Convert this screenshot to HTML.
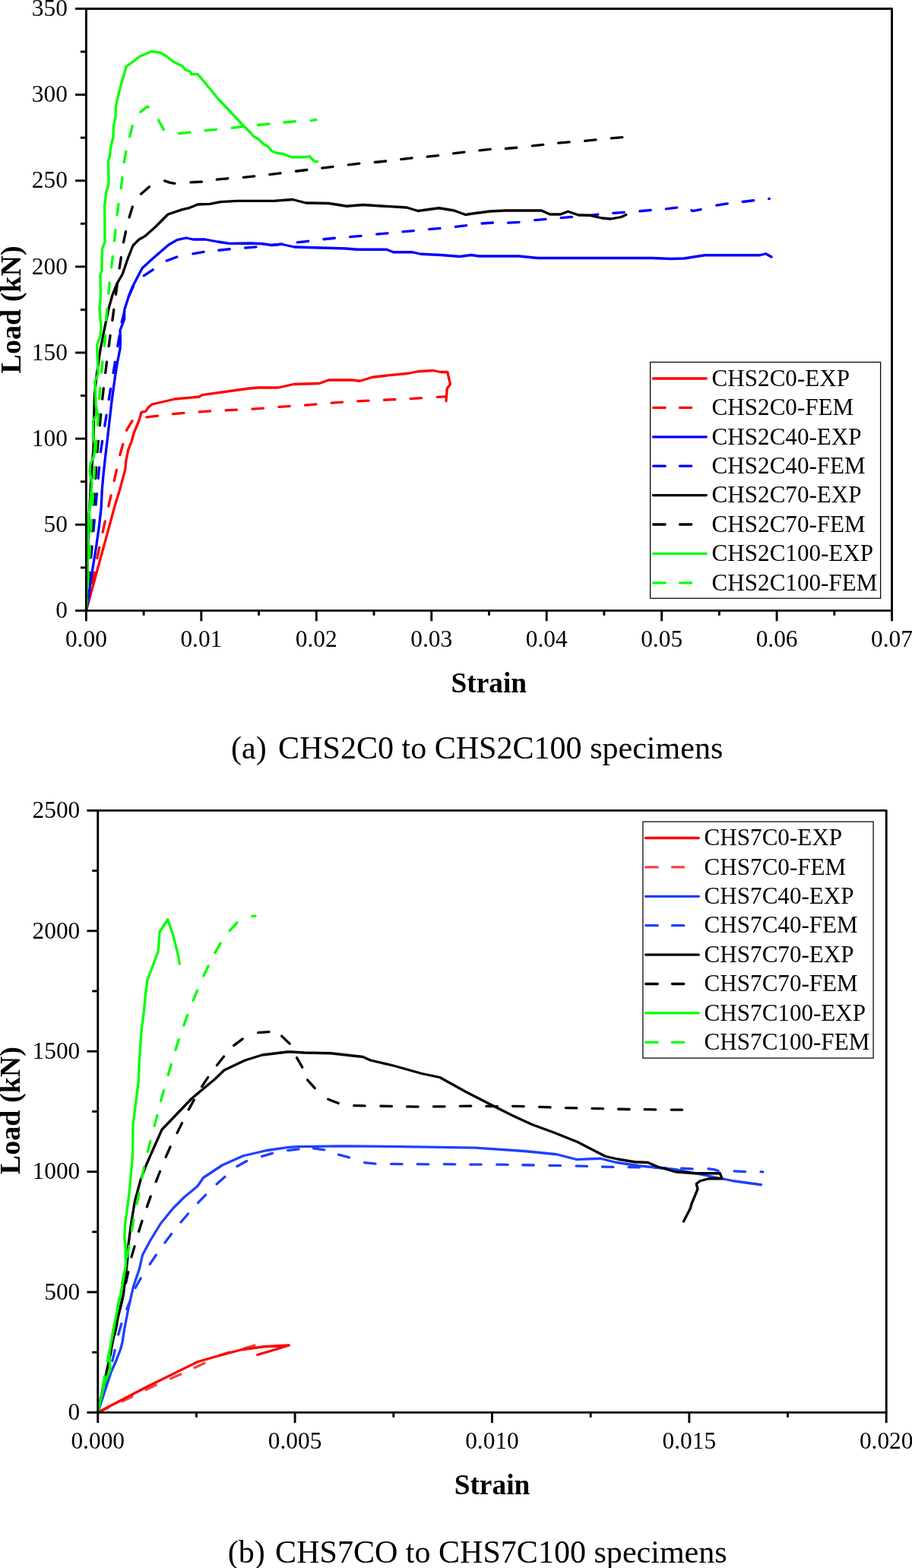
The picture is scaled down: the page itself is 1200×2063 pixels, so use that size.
<!DOCTYPE html>
<html lang="en"><head><meta charset="utf-8"><title>Load-strain curves</title>
<style>html,body{margin:0;padding:0;background:#fff;}body{width:1200px;height:2063px;overflow:hidden;}svg{display:block;}text{font-family:"Liberation Serif","Times New Roman",serif;}</style></head>
<body>
<svg width="1200" height="2063" viewBox="0 0 1200 2063" font-family="'Liberation Serif', 'Times New Roman', serif" fill="#000">
<rect width="1200" height="2063" fill="#fff"/>
<g id="chart-a">
<path d="M113.77 801.82 L117.06 787.7 M121.66 767.93 L124.34 753.67 M127.86 734.41 L130.74 720.19 M135.13 700.08 L138.27 685.92 M142.82 666.08 L145.98 651.92 M150.19 632.57 L153.41 618.43 M157.84 598.48 L161.76 584.52 M166.47 566.22 L173.93 553.78 M193 548.88 L207.4 547.12 M227.48 544.69 L241.92 543.31 M262.27 541.87 L276.73 540.93 M297.06 539.9 L311.54 539.1 M332.02 538.05 L346.48 537.1 M366.89 535.4 L381.36 534.35 M401.52 533.05 L415.98 531.95 M436.14 530.15 L450.61 529.1 M470.64 527.89 L485.11 527.11 M505.51 526.23 L519.99 525.52 M540.01 524.53 L554.49 523.72 M575.4 522.41 L585.35 521.84" stroke="#ff0000" stroke-width="3.3" fill="none" stroke-linejoin="round" stroke-linecap="round"/>
<path d="M113.5 803 L146.6 682.1 L151.3 664.6 L157.7 644.2 L160 635.4 L164.7 617.9 L165.8 606.3 L168.8 591.7 L173.4 580 L176 570 L183 553 L186 542.4 L192 541 L195 536 L200 532 L230 525 L262 522 L266 519.6 L328 511 L340 510 L366.25 510 L386.25 505.5 L420 504.5 L432.5 500 L462.5 500 L473.75 501.25 L490 496.25 L505 494.5 L537.5 491.25 L550 488.75 L570 487.5 L580 489.5 L588.75 489.5 L592.5 505.5 L588.25 511.25 L587 527.5" stroke="#ff0000" stroke-width="3.3" fill="none" stroke-linejoin="round" stroke-linecap="round" />
<path d="M113.54 802.61 L114.84 788.17 M116.67 767.95 L117.98 753.51 M119.81 733.29 L121.12 718.85 M122.95 698.64 L124.26 684.19 M126.09 663.98 L127.4 649.54 M129.23 629.32 L130.54 614.88 M132.37 594.66 L134.63 580.34 M137.77 560.46 L140.03 546.14 M143.24 525.66 L145.56 511.34 M149.01 490.65 L151.39 476.35 M154.74 455.64 L157.26 441.36 M160.17 423.78 L163.73 409.72 M169.52 389.86 L175.48 376.64 M189.17 362.82 L201.23 354.78 M219.21 343.15 L232.79 338.05 M253.86 333.95 L268.14 331.45 M287.79 329.25 L302.21 327.75 M322.58 326.12 L337.02 324.88 M356.95 322.71 L371.37 321.15 M391.3 318.98 L405.7 317.27 M425.91 314.74 L440.34 313.26 M460.66 311.67 L475.09 310.33 M495.66 308.2 L510.09 306.8 M529.91 304.93 L544.34 303.57 M564.66 301.7 L579.09 300.3 M599.29 298.28 L613.71 296.72 M634.02 294 L648.48 293 M668.64 293.22 L683.11 292.28 M703.66 289.7 L718.09 288.3 M738.15 286.63 L752.6 285.37 M772.46 283.56 L786.91 282.25 M806.77 280.44 L821.23 279.31 M841.9 277.74 L856.35 276.51 M876.3 274.85 L890.7 273.15 M909.9 276.83 L911.5 277.6 L922.13 275.69 M942.85 270.17 L957.15 267.83 M977.18 265.5 L991.57 263.75 M1011.62 261.52 L1012.38 261.4" stroke="#0000ff" stroke-width="3.3" fill="none" stroke-linejoin="round" stroke-linecap="round"/>
<path d="M113.5 803 L116.1 789.2 L119 765.8 L121.9 748.3 L126.6 719.2 L130.7 690 L133.2 667.5 L134.3 644.2 L136.1 623.8 L139 597.5 L141.3 578 L147 528 L151.8 493 L154.6 476 L158 459 L158.4 446 L158 434.5 L163.6 420 L163.6 408 L170 388 L174 378 L187 353 L200 341 L222 322 L233 315.6 L245 313 L254 315 L270 315 L286 318 L302 320.4 L330 320 L345 320.75 L357.5 322.5 L370 321.25 L387.5 325 L430 326.25 L455 327 L470 328.25 L508.75 328.25 L517.5 331.75 L542.5 331.75 L553.75 334.25 L580 335.5 L605 337.5 L620 335.5 L630 337 L682.5 337 L707.5 339.5 L857.5 339.5 L882.5 340.5 L900 340 L927.5 335.75 L1000 335.75 L1007.5 333.75 L1015 338" stroke="#0000ff" stroke-width="3.3" fill="none" stroke-linejoin="round" stroke-linecap="round" />
<path d="M113.5 803 L114.51 788.55 M115.92 768.3 L116.93 753.83 M118.34 733.58 L119.35 719.12 M120.76 698.87 L121.77 684.4 M123.18 664.15 L124.19 649.68 M125.6 629.43 L126.61 614.97 M128.02 594.72 L129.38 580.28 M131.29 559.72 L132.71 545.28 M134.71 525.21 L136.29 510.79 M138.71 490.5 L140.49 476.1 M143.14 455.69 L145.06 441.31 M147.82 421.68 L149.78 407.32 M152.42 387.38 L154.38 373.02 M157.09 352.96 L159.31 338.64 M162.51 318.8 L165.49 304.6 M170.03 285.92 L174.37 272.08 M185.53 255.26 L196.47 245.74 M216.57 237.92 L224 240.4 L229.97 241.34 M250.96 239.92 L265.44 239.08 M285.29 236.22 L299.71 234.78 M320.28 233.3 L334.72 231.9 M354.68 229.61 L369.07 227.89 M389.43 225.26 L403.82 223.49 M423.68 221.12 L438.07 219.38 M458.42 216.78 L472.83 215.22 M493.16 213.5 L507.59 212 M527.67 209.52 L542.08 207.98 M562.17 206.19 L576.58 204.56 M596.55 201.86 L610.95 200.14 M630.9 197.77 L645.35 196.48 M665.4 195.5 L679.85 194.25 M700.29 191.89 L714.71 190.36 M734.66 188.18 L749.09 186.82 M769.65 185.27 L784.1 183.98 M804.41 181.95 L818.84 180.55" stroke="#000000" stroke-width="3.3" fill="none" stroke-linejoin="round" stroke-linecap="round"/>
<path d="M113.5 803 L116.5 690 L120.5 620 L123 590 L123.6 552 L124.4 520 L127.4 492 L132 460 L138 430 L143 406 L148 388 L154 373 L161 361 L169 338 L175 323 L183 315 L191 310.6 L204 299 L221 282 L240 275.6 L249 273.6 L260 269 L276 268.4 L290 265.6 L312 264.4 L360 264.4 L385 262.5 L402.5 267 L432.5 267.5 L456.25 271.25 L477.5 269.5 L505 271.25 L535 273 L550 277.5 L577.5 273.75 L597.5 277 L612.5 282.5 L620 281.25 L645 278 L665 277 L712.5 277 L723.75 282 L737.5 282 L747.5 278.25 L761.25 283 L775 283.25 L792.5 287 L803.75 288 L817.5 285.5 L823.75 282.5" stroke="#000000" stroke-width="3.3" fill="none" stroke-linejoin="round" stroke-linecap="round" />
<path d="M113.5 803 L114.34 788.69 M115.53 768.43 L116.38 753.95 M117.58 733.69 L118.43 719.21 M119.62 698.95 L120.47 684.47 M121.66 664.21 L122.51 649.73 M123.71 629.47 L124.56 614.99 M125.75 594.73 L126.85 580.27 M128.49 559.23 L129.51 544.77 M130.66 524.73 L131.74 510.27 M133.49 490.22 L134.91 475.78 M137.37 455.22 L138.63 440.78 M139.63 421.23 L140.77 406.77 M142.64 386.21 L144.16 371.79 M146.69 351.9 L148.31 337.5 M150.42 317.01 L151.98 302.59 M154.07 282.79 L155.93 268.41 M159.11 247.88 L161.09 233.52 M163.21 213.63 L165.79 199.37 M170.6 179.82 L174.2 165.78 M184.88 147.36 L193.9 140 L195.16 140.99 M208.52 157.94 L215.48 170.66 M235.48 175.5 L249.92 174.1 M270.09 171.95 L284.51 170.45 M305.29 168.27 L319.71 166.73 M339.41 164.5 L353.84 163 M374.03 160.99 L388.47 159.76 M409.14 158.55 L415.86 157.7" stroke="#00ff00" stroke-width="3.3" fill="none" stroke-linejoin="round" stroke-linecap="round"/>
<path d="M113.5 803 L115 750 L116 690 L121 636 L118 620 L119 610 L123.6 600 L125 586 L123 576 L122.4 554 L128 544 L126 532 L125 502 L129 492 L127.6 454 L132 442 L133 430 L131 407 L132.4 390 L132 361 L134 356 L134.4 328 L138 318 L137.6 270 L140 252 L143 242 L142.4 212 L144.4 206 L145.6 194 L149 180 L149.4 166 L152 154 L152.4 140 L155 128 L158 116 L162 102 L166 87.6 L174 82 L184 74 L192 71 L199 67.6 L210 69 L219 74 L228 81 L240 87 L244 92 L250 94 L252 97.6 L260 97.6 L264 102 L287 130 L320 165 L330 175 L333.75 179.5 L339.5 182.5 L347.5 190 L352.5 192.5 L357.5 198.75 L363.75 201.25 L372.5 202.5 L383.75 206.75 L402.5 206.75 L407 205.5 L413.75 212.5 L417.5 212.5" stroke="#00ff00" stroke-width="3.3" fill="none" stroke-linejoin="round" stroke-linecap="round" />
<rect x="113.4" y="11.45" width="1060.15" height="791.95" fill="none" stroke="#000" stroke-width="2.9" stroke-linejoin="round"/>
<line x1="113.4" y1="803.4" x2="113.4" y2="817.2" stroke="#000000" stroke-width="2.9" stroke-linecap="butt"/>
<text x="113.4" y="850.5" font-size="31.4" text-anchor="middle" letter-spacing="0.0">0.00</text>
<line x1="264.85" y1="803.4" x2="264.85" y2="817.2" stroke="#000000" stroke-width="2.9" stroke-linecap="butt"/>
<text x="264.85" y="850.5" font-size="31.4" text-anchor="middle" letter-spacing="0.0">0.01</text>
<line x1="416.3" y1="803.4" x2="416.3" y2="817.2" stroke="#000000" stroke-width="2.9" stroke-linecap="butt"/>
<text x="416.3" y="850.5" font-size="31.4" text-anchor="middle" letter-spacing="0.0">0.02</text>
<line x1="567.75" y1="803.4" x2="567.75" y2="817.2" stroke="#000000" stroke-width="2.9" stroke-linecap="butt"/>
<text x="567.75" y="850.5" font-size="31.4" text-anchor="middle" letter-spacing="0.0">0.03</text>
<line x1="719.2" y1="803.4" x2="719.2" y2="817.2" stroke="#000000" stroke-width="2.9" stroke-linecap="butt"/>
<text x="719.2" y="850.5" font-size="31.4" text-anchor="middle" letter-spacing="0.0">0.04</text>
<line x1="870.65" y1="803.4" x2="870.65" y2="817.2" stroke="#000000" stroke-width="2.9" stroke-linecap="butt"/>
<text x="870.65" y="850.5" font-size="31.4" text-anchor="middle" letter-spacing="0.0">0.05</text>
<line x1="1022.1" y1="803.4" x2="1022.1" y2="817.2" stroke="#000000" stroke-width="2.9" stroke-linecap="butt"/>
<text x="1022.1" y="850.5" font-size="31.4" text-anchor="middle" letter-spacing="0.0">0.06</text>
<line x1="1173.55" y1="803.4" x2="1173.55" y2="817.2" stroke="#000000" stroke-width="2.9" stroke-linecap="butt"/>
<text x="1173.55" y="850.5" font-size="31.4" text-anchor="middle" letter-spacing="0.0">0.07</text>
<line x1="189.12" y1="803.4" x2="189.12" y2="809.8" stroke="#000000" stroke-width="2.9" stroke-linecap="butt"/>
<line x1="340.57" y1="803.4" x2="340.57" y2="809.8" stroke="#000000" stroke-width="2.9" stroke-linecap="butt"/>
<line x1="492.02" y1="803.4" x2="492.02" y2="809.8" stroke="#000000" stroke-width="2.9" stroke-linecap="butt"/>
<line x1="643.47" y1="803.4" x2="643.47" y2="809.8" stroke="#000000" stroke-width="2.9" stroke-linecap="butt"/>
<line x1="794.92" y1="803.4" x2="794.92" y2="809.8" stroke="#000000" stroke-width="2.9" stroke-linecap="butt"/>
<line x1="946.37" y1="803.4" x2="946.37" y2="809.8" stroke="#000000" stroke-width="2.9" stroke-linecap="butt"/>
<line x1="1097.83" y1="803.4" x2="1097.83" y2="809.8" stroke="#000000" stroke-width="2.9" stroke-linecap="butt"/>
<line x1="99.1" y1="803.4" x2="113.4" y2="803.4" stroke="#000000" stroke-width="2.9" stroke-linecap="butt"/>
<text x="88.85" y="813.11" font-size="31.4" text-anchor="end" letter-spacing="0.0">0</text>
<line x1="99.1" y1="690.26" x2="113.4" y2="690.26" stroke="#000000" stroke-width="2.9" stroke-linecap="butt"/>
<text x="88.85" y="699.98" font-size="31.4" text-anchor="end" letter-spacing="0.0">50</text>
<line x1="99.1" y1="577.13" x2="113.4" y2="577.13" stroke="#000000" stroke-width="2.9" stroke-linecap="butt"/>
<text x="88.85" y="586.84" font-size="31.4" text-anchor="end" letter-spacing="0.0">100</text>
<line x1="99.1" y1="463.99" x2="113.4" y2="463.99" stroke="#000000" stroke-width="2.9" stroke-linecap="butt"/>
<text x="88.85" y="473.71" font-size="31.4" text-anchor="end" letter-spacing="0.0">150</text>
<line x1="99.1" y1="350.86" x2="113.4" y2="350.86" stroke="#000000" stroke-width="2.9" stroke-linecap="butt"/>
<text x="88.85" y="360.57" font-size="31.4" text-anchor="end" letter-spacing="0.0">200</text>
<line x1="99.1" y1="237.72" x2="113.4" y2="237.72" stroke="#000000" stroke-width="2.9" stroke-linecap="butt"/>
<text x="88.85" y="247.43" font-size="31.4" text-anchor="end" letter-spacing="0.0">250</text>
<line x1="99.1" y1="124.59" x2="113.4" y2="124.59" stroke="#000000" stroke-width="2.9" stroke-linecap="butt"/>
<text x="88.85" y="134.3" font-size="31.4" text-anchor="end" letter-spacing="0.0">300</text>
<line x1="99.1" y1="11.45" x2="113.4" y2="11.45" stroke="#000000" stroke-width="2.9" stroke-linecap="butt"/>
<text x="88.85" y="21.16" font-size="31.4" text-anchor="end" letter-spacing="0.0">350</text>
<line x1="105.9" y1="746.83" x2="113.4" y2="746.83" stroke="#000000" stroke-width="2.9" stroke-linecap="butt"/>
<line x1="105.9" y1="633.7" x2="113.4" y2="633.7" stroke="#000000" stroke-width="2.9" stroke-linecap="butt"/>
<line x1="105.9" y1="520.56" x2="113.4" y2="520.56" stroke="#000000" stroke-width="2.9" stroke-linecap="butt"/>
<line x1="105.9" y1="407.43" x2="113.4" y2="407.43" stroke="#000000" stroke-width="2.9" stroke-linecap="butt"/>
<line x1="105.9" y1="294.29" x2="113.4" y2="294.29" stroke="#000000" stroke-width="2.9" stroke-linecap="butt"/>
<line x1="105.9" y1="181.15" x2="113.4" y2="181.15" stroke="#000000" stroke-width="2.9" stroke-linecap="butt"/>
<line x1="105.9" y1="68.02" x2="113.4" y2="68.02" stroke="#000000" stroke-width="2.9" stroke-linecap="butt"/>
<text x="26.7" y="407.4" font-size="38.1" text-anchor="middle" font-weight="bold" transform="rotate(-90 26.7 407.4)" >Load (kN)</text>
<text x="643.3" y="910.8" font-size="37.4" text-anchor="middle" font-weight="bold" >Strain</text>
<rect x="855.6" y="476.5" width="303" height="310.7" fill="#fff" stroke="#000" stroke-width="1.25"/>
<line x1="859.5" y1="498" x2="929.35" y2="498" stroke="#ff0000" stroke-width="3.3" stroke-linecap="round"/>
<text x="936.6" y="507.71" font-size="31.1" text-anchor="start" letter-spacing="0.0">CHS2C0-EXP</text>
<line x1="859.7" y1="536.4" x2="875.2" y2="536.4" stroke="#ff0000" stroke-width="3.3" stroke-linecap="round"/>
<line x1="894.5" y1="536.4" x2="909.7" y2="536.4" stroke="#ff0000" stroke-width="3.3" stroke-linecap="round"/>
<text x="936.6" y="546.11" font-size="31.1" text-anchor="start" letter-spacing="0.0">CHS2C0-FEM</text>
<line x1="859.5" y1="574.8" x2="929.35" y2="574.8" stroke="#0000ff" stroke-width="3.3" stroke-linecap="round"/>
<text x="936.6" y="584.51" font-size="31.1" text-anchor="start" letter-spacing="0.0">CHS2C40-EXP</text>
<line x1="859.7" y1="613.2" x2="875.2" y2="613.2" stroke="#0000ff" stroke-width="3.3" stroke-linecap="round"/>
<line x1="894.5" y1="613.2" x2="909.7" y2="613.2" stroke="#0000ff" stroke-width="3.3" stroke-linecap="round"/>
<text x="936.6" y="622.91" font-size="31.1" text-anchor="start" letter-spacing="0.0">CHS2C40-FEM</text>
<line x1="859.5" y1="651.6" x2="929.35" y2="651.6" stroke="#000000" stroke-width="3.3" stroke-linecap="round"/>
<text x="936.6" y="661.31" font-size="31.1" text-anchor="start" letter-spacing="0.0">CHS2C70-EXP</text>
<line x1="859.7" y1="690" x2="875.2" y2="690" stroke="#000000" stroke-width="3.3" stroke-linecap="round"/>
<line x1="894.5" y1="690" x2="909.7" y2="690" stroke="#000000" stroke-width="3.3" stroke-linecap="round"/>
<text x="936.6" y="699.71" font-size="31.1" text-anchor="start" letter-spacing="0.0">CHS2C70-FEM</text>
<line x1="859.5" y1="728.4" x2="929.35" y2="728.4" stroke="#00ff00" stroke-width="3.3" stroke-linecap="round"/>
<text x="936.6" y="738.11" font-size="31.1" text-anchor="start" letter-spacing="0.0">CHS2C100-EXP</text>
<line x1="859.7" y1="766.8" x2="875.2" y2="766.8" stroke="#00ff00" stroke-width="3.3" stroke-linecap="round"/>
<line x1="894.5" y1="766.8" x2="909.7" y2="766.8" stroke="#00ff00" stroke-width="3.3" stroke-linecap="round"/>
<text x="936.6" y="776.51" font-size="31.1" text-anchor="start" letter-spacing="0.0">CHS2C100-FEM</text>
</g>
<text x="304" y="998.4" font-size="42.05" text-anchor="start" >(a)</text>
<text x="366.1" y="998.4" font-size="42.05" text-anchor="start" >CHS2C0 to CHS2C100 specimens</text>
<g id="chart-b">
<path d="M129.21 1857.99 L142.45 1852.08 M160.98 1843.8 L174.02 1837.45 M192.18 1828.44 L205.32 1822.31 M224.65 1813.87 L237.85 1807.88 M255.93 1799.56 L269.07 1793.44 M288.12 1783.54 L301.88 1778.96 M321.14 1774.03 L335.11 1770.17" stroke="#f04545" stroke-width="3.3" fill="none" stroke-linejoin="round" stroke-linecap="round"/>
<path d="M128.75 1858.2 L192.5 1825 L260 1791.75 L285 1784.5 L317.5 1775.75 L347.5 1771.75 L380.5 1770 L360 1776.25 L338.75 1782.5" stroke="#ff0000" stroke-width="3.3" fill="none" stroke-linejoin="round" stroke-linecap="round" />
<path d="M128.94 1857.54 L132.87 1843.59 M138.38 1824.05 L142.32 1810.09 M147.83 1790.55 L151.17 1776.45 M155.72 1755.71 L159.78 1741.79 M166.86 1722.22 L170.64 1712.78 M178.04 1694.43 L185.21 1681.82 M197.2 1663.26 L205.3 1651.24 M216.87 1635.03 L225.63 1623.47 M238.04 1608.01 L247.46 1596.99 M260.58 1582.46 L270.67 1572.04 M285.05 1557.9 L295.95 1548.35 M312.05 1534.55 L324.7 1527.45 M344.52 1521.33 L358.48 1517.42 M378.68 1513.66 L393.07 1511.84 M412.44 1510.91 L426.81 1512.84 M445.51 1519.08 L459.49 1522.92 M479.67 1529.6 L494.08 1531.15 M514.63 1531.36 L529.12 1531.64 M549.25 1531.72 L563.75 1531.78 M584.25 1531.71 L598.75 1531.79 M618.63 1532.07 L633.12 1532.18 M653.75 1532.17 L668.25 1532.33 M687.75 1532.74 L702.25 1533.01 M723 1533.36 L737.5 1533.64 M758.13 1534.07 L772.62 1534.43 M792.38 1535.09 L806.87 1535.41 M827.13 1535.65 L841.62 1535.85 M861.82 1536.32 L876.31 1536.66 M896.51 1537.13 L910.99 1537.87 M932.14 1537.78 L939.5 1538.6 L945.23 1540.48 M966.11 1540.97 L980.59 1541.53 M1000.95 1541.72 L1003.75 1541.83" stroke="#1f40ff" stroke-width="3.3" fill="none" stroke-linejoin="round" stroke-linecap="round"/>
<path d="M128.75 1858.2 L146.25 1805 L152.7 1790.5 L158.5 1775.5 L161 1766 L163.6 1749 L168.75 1722.5 L175.5 1692.5 L183.25 1670 L187.5 1651.25 L197.5 1632.5 L211.25 1610 L227.5 1590 L242.5 1575 L260 1560.5 L267.5 1549.5 L292.5 1533 L320 1520.75 L350 1513.75 L380 1509.4 L393 1508.7 L450 1507.8 L506.7 1508.3 L563 1509.1 L625 1510.1 L690 1514.5 L732.5 1518.75 L758.75 1525.5 L790 1524.25 L810 1529.25 L840 1533.75 L890 1538.75 L940 1548.75 L965 1553.75 L1001.5 1558.75" stroke="#1f40ff" stroke-width="3.3" fill="none" stroke-linejoin="round" stroke-linecap="round" />
<path d="M128.81 1857.91 L131.88 1843.74 M136.17 1823.9 L139.24 1809.73 M143.53 1789.89 L146.6 1775.72 M150.89 1755.87 L153.96 1741.7 M158.25 1721.86 L161.32 1707.69 M165.61 1687.85 L168.68 1673.68 M172.97 1653.84 L177.03 1639.91 M182.57 1620.29 L186.93 1606.46 M193.33 1587.83 L198.17 1574.17 M205.25 1554.76 L210.5 1541.24 M218.18 1522.25 L224.07 1509 M233.04 1490.63 L239.46 1477.62 M248.25 1459.85 L255.25 1447.15 M265.62 1429.54 L273.63 1417.46 M285.47 1401.41 L294.53 1390.09 M307.59 1375.62 L319.16 1366.88 M339.65 1358.68 L354.1 1357.57 M370.64 1363.11 L381.11 1373.14 M390.5 1391.59 L397.75 1404.16 M404.53 1420.86 L414.22 1431.64 M431.78 1446.16 L445.22 1451.59 M465.63 1454.53 L480.12 1454.97 M500.88 1455.25 L515.37 1455.5 M535.63 1455.95 L550.12 1456.05 M570.5 1455.95 L585 1455.8 M605.25 1455.29 L619.75 1455.21 M639.88 1455.47 L654.37 1455.53 M674.63 1455.38 L689.12 1455.62 M709.63 1456.39 L724.12 1456.86 M744.38 1457.55 L758.87 1457.95 M779 1458.33 L793.5 1458.67 M813.63 1459.24 L828.12 1459.51 M848.13 1459.67 L862.62 1459.83 M883.13 1460.05 L897.62 1460.2" stroke="#000000" stroke-width="3.3" fill="none" stroke-linejoin="round" stroke-linecap="round"/>
<path d="M128.75 1858.2 L141.25 1800 L152.5 1745 L162.5 1702.5 L168 1655 L168 1645 L172.5 1610 L177.5 1580 L185 1552.5 L192.5 1532.5 L213 1486.25 L252.5 1445 L282.5 1420 L295 1408 L322.5 1395 L345 1388 L380 1383.75 L400 1385 L435 1385.75 L477.5 1390.5 L487.5 1395 L517.5 1402 L555 1412.5 L578.75 1417.5 L612.5 1436.25 L650 1455.5 L675 1468 L700 1479.5 L730 1490.5 L760 1502.5 L796.25 1521.25 L812.5 1525 L835 1528.75 L852.5 1529.5 L865 1535 L888.75 1541.75 L915 1543.75 L947.5 1543.75 L950 1550.75 L932.5 1550.75 L921.25 1553.75 L916.25 1557.5 L918 1564.5 L910 1583.75 L908.25 1590 L899.5 1607" stroke="#000000" stroke-width="3.3" fill="none" stroke-linejoin="round" stroke-linecap="round" />
<path d="M128.75 1858.2 L131.25 1844.95 M135.01 1825 L137.7 1810.75 M141.46 1790.81 L144.14 1776.56 M147.91 1756.61 L150.59 1742.36 M154.35 1722.41 L157.04 1708.16 M160.8 1688.21 L163.49 1673.96 M167.25 1654.02 L169.75 1639.73 M173.3 1619 L175.95 1604.75 M180.11 1583.99 L182.89 1569.76 M186.61 1549.97 L189.64 1535.78 M194.39 1515.41 L197.86 1501.34 M203.17 1481.39 L206.83 1467.36 M211.59 1448.62 L215.41 1434.63 M221.22 1414.46 L225.28 1400.54 M230.9 1381.4 L235.35 1367.6 M241.76 1349.06 L246.74 1335.44 M254.11 1316.33 L259.64 1302.92 M267.88 1284.05 L274.12 1270.95 M282.85 1253.64 L290.15 1241.11 M302.23 1224.47 L312.02 1213.78 M331.84 1205.47 L335.96 1205.13" stroke="#00ff00" stroke-width="3.3" fill="none" stroke-linejoin="round" stroke-linecap="round"/>
<path d="M128.75 1858.2 L137.5 1820 L145 1802.5 L143.75 1780 L150 1745 L158.75 1702.5 L165.5 1665 L165 1640 L163.75 1627.5 L164.5 1612.5 L170 1570 L174.5 1520 L175 1480 L182.5 1420 L183 1400 L186.25 1355 L189.5 1330 L191.25 1310 L193.75 1290 L201.25 1270 L208.25 1251.25 L210 1226.25 L220.75 1209.5 L228 1231.25 L234.25 1256.25 L236.25 1268" stroke="#00ff00" stroke-width="3.3" fill="none" stroke-linejoin="round" stroke-linecap="round" />
<rect x="128.75" y="1066.4" width="1037.45" height="792" fill="none" stroke="#000" stroke-width="2.9" stroke-linejoin="round"/>
<line x1="128.75" y1="1858.4" x2="128.75" y2="1872.2" stroke="#000000" stroke-width="2.9" stroke-linecap="butt"/>
<text x="128.75" y="1905.5" font-size="31.4" text-anchor="middle" letter-spacing="0.0">0.000</text>
<line x1="388.11" y1="1858.4" x2="388.11" y2="1872.2" stroke="#000000" stroke-width="2.9" stroke-linecap="butt"/>
<text x="388.11" y="1905.5" font-size="31.4" text-anchor="middle" letter-spacing="0.0">0.005</text>
<line x1="647.48" y1="1858.4" x2="647.48" y2="1872.2" stroke="#000000" stroke-width="2.9" stroke-linecap="butt"/>
<text x="647.48" y="1905.5" font-size="31.4" text-anchor="middle" letter-spacing="0.0">0.010</text>
<line x1="906.84" y1="1858.4" x2="906.84" y2="1872.2" stroke="#000000" stroke-width="2.9" stroke-linecap="butt"/>
<text x="906.84" y="1905.5" font-size="31.4" text-anchor="middle" letter-spacing="0.0">0.015</text>
<line x1="1166.2" y1="1858.4" x2="1166.2" y2="1872.2" stroke="#000000" stroke-width="2.9" stroke-linecap="butt"/>
<text x="1166.2" y="1905.5" font-size="31.4" text-anchor="middle" letter-spacing="0.0">0.020</text>
<line x1="258.43" y1="1858.4" x2="258.43" y2="1864.8" stroke="#000000" stroke-width="2.9" stroke-linecap="butt"/>
<line x1="517.79" y1="1858.4" x2="517.79" y2="1864.8" stroke="#000000" stroke-width="2.9" stroke-linecap="butt"/>
<line x1="777.16" y1="1858.4" x2="777.16" y2="1864.8" stroke="#000000" stroke-width="2.9" stroke-linecap="butt"/>
<line x1="1036.52" y1="1858.4" x2="1036.52" y2="1864.8" stroke="#000000" stroke-width="2.9" stroke-linecap="butt"/>
<line x1="114.45" y1="1858.4" x2="128.75" y2="1858.4" stroke="#000000" stroke-width="2.9" stroke-linecap="butt"/>
<text x="105.3" y="1868.11" font-size="31.4" text-anchor="end" letter-spacing="0.0">0</text>
<line x1="114.45" y1="1700" x2="128.75" y2="1700" stroke="#000000" stroke-width="2.9" stroke-linecap="butt"/>
<text x="105.3" y="1709.71" font-size="31.4" text-anchor="end" letter-spacing="0.0">500</text>
<line x1="114.45" y1="1541.6" x2="128.75" y2="1541.6" stroke="#000000" stroke-width="2.9" stroke-linecap="butt"/>
<text x="105.3" y="1551.31" font-size="31.4" text-anchor="end" letter-spacing="0.0">1000</text>
<line x1="114.45" y1="1383.2" x2="128.75" y2="1383.2" stroke="#000000" stroke-width="2.9" stroke-linecap="butt"/>
<text x="105.3" y="1392.91" font-size="31.4" text-anchor="end" letter-spacing="0.0">1500</text>
<line x1="114.45" y1="1224.8" x2="128.75" y2="1224.8" stroke="#000000" stroke-width="2.9" stroke-linecap="butt"/>
<text x="105.3" y="1234.51" font-size="31.4" text-anchor="end" letter-spacing="0.0">2000</text>
<line x1="114.45" y1="1066.4" x2="128.75" y2="1066.4" stroke="#000000" stroke-width="2.9" stroke-linecap="butt"/>
<text x="105.3" y="1076.11" font-size="31.4" text-anchor="end" letter-spacing="0.0">2500</text>
<line x1="121.25" y1="1779.2" x2="128.75" y2="1779.2" stroke="#000000" stroke-width="2.9" stroke-linecap="butt"/>
<line x1="121.25" y1="1620.8" x2="128.75" y2="1620.8" stroke="#000000" stroke-width="2.9" stroke-linecap="butt"/>
<line x1="121.25" y1="1462.4" x2="128.75" y2="1462.4" stroke="#000000" stroke-width="2.9" stroke-linecap="butt"/>
<line x1="121.25" y1="1304" x2="128.75" y2="1304" stroke="#000000" stroke-width="2.9" stroke-linecap="butt"/>
<line x1="121.25" y1="1145.6" x2="128.75" y2="1145.6" stroke="#000000" stroke-width="2.9" stroke-linecap="butt"/>
<text x="26.5" y="1461.1" font-size="38.1" text-anchor="middle" font-weight="bold" transform="rotate(-90 26.5 1461.1)" >Load (kN)</text>
<text x="647.5" y="1965.8" font-size="37.4" text-anchor="middle" font-weight="bold" >Strain</text>
<rect x="845.9" y="1081.1" width="303.2" height="311" fill="#fff" stroke="#000" stroke-width="1.25"/>
<line x1="849.5" y1="1102.5" x2="919.35" y2="1102.5" stroke="#ff0000" stroke-width="3.3" stroke-linecap="round"/>
<text x="926.6" y="1112.21" font-size="31.1" text-anchor="start" letter-spacing="0.0">CHS7C0-EXP</text>
<line x1="849.7" y1="1140.9" x2="865.2" y2="1140.9" stroke="#f04545" stroke-width="3.3" stroke-linecap="round"/>
<line x1="884.5" y1="1140.9" x2="899.7" y2="1140.9" stroke="#f04545" stroke-width="3.3" stroke-linecap="round"/>
<text x="926.6" y="1150.61" font-size="31.1" text-anchor="start" letter-spacing="0.0">CHS7C0-FEM</text>
<line x1="849.5" y1="1179.3" x2="919.35" y2="1179.3" stroke="#1f40ff" stroke-width="3.3" stroke-linecap="round"/>
<text x="926.6" y="1189.01" font-size="31.1" text-anchor="start" letter-spacing="0.0">CHS7C40-EXP</text>
<line x1="849.7" y1="1217.7" x2="865.2" y2="1217.7" stroke="#1f40ff" stroke-width="3.3" stroke-linecap="round"/>
<line x1="884.5" y1="1217.7" x2="899.7" y2="1217.7" stroke="#1f40ff" stroke-width="3.3" stroke-linecap="round"/>
<text x="926.6" y="1227.41" font-size="31.1" text-anchor="start" letter-spacing="0.0">CHS7C40-FEM</text>
<line x1="849.5" y1="1256.1" x2="919.35" y2="1256.1" stroke="#000000" stroke-width="3.3" stroke-linecap="round"/>
<text x="926.6" y="1265.81" font-size="31.1" text-anchor="start" letter-spacing="0.0">CHS7C70-EXP</text>
<line x1="849.7" y1="1294.5" x2="865.2" y2="1294.5" stroke="#000000" stroke-width="3.3" stroke-linecap="round"/>
<line x1="884.5" y1="1294.5" x2="899.7" y2="1294.5" stroke="#000000" stroke-width="3.3" stroke-linecap="round"/>
<text x="926.6" y="1304.21" font-size="31.1" text-anchor="start" letter-spacing="0.0">CHS7C70-FEM</text>
<line x1="849.5" y1="1332.9" x2="919.35" y2="1332.9" stroke="#00ff00" stroke-width="3.3" stroke-linecap="round"/>
<text x="926.6" y="1342.61" font-size="31.1" text-anchor="start" letter-spacing="0.0">CHS7C100-EXP</text>
<line x1="849.7" y1="1371.3" x2="865.2" y2="1371.3" stroke="#00ff00" stroke-width="3.3" stroke-linecap="round"/>
<line x1="884.5" y1="1371.3" x2="899.7" y2="1371.3" stroke="#00ff00" stroke-width="3.3" stroke-linecap="round"/>
<text x="926.6" y="1381.01" font-size="31.1" text-anchor="start" letter-spacing="0.0">CHS7C100-FEM</text>
</g>
<text x="299.7" y="2055.5" font-size="42.05" text-anchor="start" >(b)</text>
<text x="362.1" y="2055.5" font-size="42.05" text-anchor="start" >CHS7CO to CHS7C100 specimens</text>
</svg>
</body></html>
